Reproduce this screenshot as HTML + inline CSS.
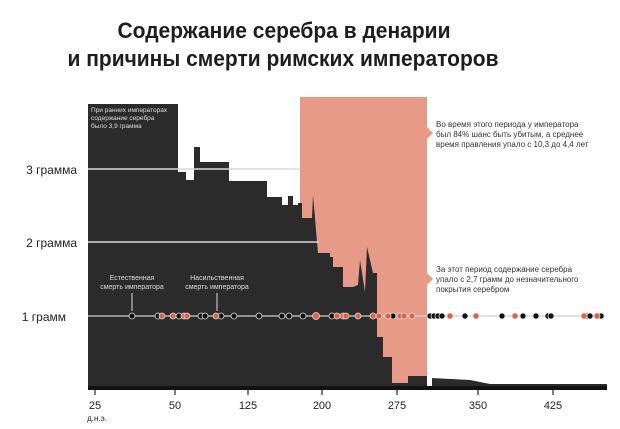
<!DOCTYPE html>
<html><head><meta charset="utf-8"><style>
html,body{margin:0;padding:0;background:#fff;}
svg{display:block;font-family:"Liberation Sans","DejaVu Sans",sans-serif;}
</style></head><body>
<svg width="620" height="429" viewBox="0 0 620 429" xmlns="http://www.w3.org/2000/svg">
<rect width="620" height="429" fill="#fff"/>
<text x="284" y="38" font-size="22" font-weight="bold" fill="#1d1d1d" text-anchor="middle" textLength="333" lengthAdjust="spacingAndGlyphs">Содержание серебра в денарии</text>
<text x="283" y="66" font-size="22" font-weight="bold" fill="#1d1d1d" text-anchor="middle" textLength="431" lengthAdjust="spacingAndGlyphs">и причины смерти римских императоров</text>

<!-- salmon period -->
<rect x="300" y="97" width="127" height="292" fill="#e89a88"/>
<polygon points="427,127 433,133 427,139" fill="#e89a88"/>
<polygon points="427,273 433,279 427,285" fill="#e89a88"/>

<!-- dark area -->
<polygon fill="#2b2b2b" points="88,104 178,104 178,172 186,172 186,180 194,180 194,147 200,147 200,162 229,162 229,181 267,181 267,197 282,197 282,205 288,205 288,196 293,196 293,205 298,205 298,203 302,203 302,218 312,218 313,195 318,253 330,253 330,257 333,257 333,267 343,267 343,287 353,287 358,285 360,260 365,292 367,247 373,273 377,273 377,337 383,337 383,357 392,357 392,383 408,383 408,376 427,376 427,389 88,389"/>
<polygon fill="#2b2b2b" points="432,378 470,380 490,384 607,384 607,389 432,389"/>
<rect x="88" y="386" width="519" height="4" fill="#111"/>

<!-- gridlines -->
<line x1="88" y1="169" x2="300" y2="169" stroke="#d8d8d8" stroke-width="1.5"/>
<line x1="88" y1="242" x2="319" y2="242" stroke="#d8d8d8" stroke-width="1.5"/>
<line x1="88" y1="316" x2="605" y2="316" stroke="#cfcfcf" stroke-width="1.2"/>

<text x="91" y="112" font-size="6.5" fill="#ddd">При ранних императорах</text>
<text x="91" y="120" font-size="6.5" fill="#ddd">содержание серебра</text>
<text x="91" y="128" font-size="6.5" fill="#ddd">было 3,9 грамма</text>

<text x="108" y="279" font-size="7" fill="#ddd" text-anchor="middle"></text>
<text x="132" y="280" font-size="7" fill="#ddd" text-anchor="middle">Естественная</text>
<text x="132" y="289" font-size="7" fill="#ddd" text-anchor="middle">смерть императора</text>
<line x1="132" y1="293" x2="132" y2="311" stroke="#ddd" stroke-width="1"/>
<text x="217" y="280" font-size="7" fill="#ddd" text-anchor="middle">Насильственная</text>
<text x="217" y="289" font-size="7" fill="#ddd" text-anchor="middle">смерть императора</text>
<line x1="217" y1="293" x2="217" y2="311" stroke="#ddd" stroke-width="1"/>

<!-- y labels -->
<g font-size="12" fill="#222" text-anchor="end">
<text x="77" y="174">3 грамма</text>
<text x="77" y="247">2 грамма</text>
<text x="66" y="321">1 грамм</text>
</g>

<!-- annotations -->
<g font-size="8" fill="#333">
<text x="436" y="127">Во время этого периода у императора</text>
<text x="436" y="137">был 84% шанс быть убитым, а среднее</text>
<text x="436" y="147">время правления упало с 10,3 до 4,4 лет</text>
<text x="436" y="272">За этот период содержание серебра</text>
<text x="436" y="282">упало с 2,7 грамм до незначительного</text>
<text x="436" y="292">покрытия серебром</text>
</g>

<!-- dots -->
<g stroke="#ddd" stroke-width="0.8">
<g fill="#111">
<circle cx="132" cy="316" r="3"/><circle cx="158" cy="316" r="3"/><circle cx="179" cy="316" r="3"/>
<circle cx="201" cy="316" r="3"/><circle cx="205" cy="316" r="3"/><circle cx="221" cy="316" r="3"/>
<circle cx="234" cy="316" r="3"/><circle cx="259" cy="316" r="3"/><circle cx="282" cy="316" r="3"/>
<circle cx="289" cy="316" r="3"/><circle cx="303" cy="316" r="3"/><circle cx="332" cy="316" r="3"/>
<circle cx="393" cy="316" r="3"/><circle cx="430" cy="316" r="3"/><circle cx="434" cy="316" r="3"/>
<circle cx="438" cy="316" r="3"/><circle cx="442" cy="316" r="3"/><circle cx="465" cy="316" r="3"/>
<circle cx="502" cy="316" r="3"/><circle cx="523" cy="316" r="3"/><circle cx="536" cy="316" r="3"/>
<circle cx="548" cy="316" r="3"/><circle cx="551" cy="316" r="3"/><circle cx="587" cy="316" r="3"/>
<circle cx="590" cy="316" r="3"/><circle cx="601" cy="316" r="3"/>
</g>
<g fill="#d9634a">
<circle cx="162" cy="316" r="3"/><circle cx="173" cy="316" r="3"/><circle cx="184" cy="316" r="3"/>
<circle cx="187" cy="316" r="3"/><circle cx="216" cy="316" r="3"/><circle cx="316" cy="316" r="3.5"/>
<circle cx="337" cy="316" r="3"/><circle cx="343" cy="316" r="3"/><circle cx="346" cy="316" r="3"/>
<circle cx="358" cy="316" r="3"/><circle cx="373" cy="316" r="3"/><circle cx="379" cy="316" r="3"/>
<circle cx="388" cy="316" r="3"/><circle cx="400" cy="316" r="3"/><circle cx="404" cy="316" r="3"/>
<circle cx="412" cy="316" r="3"/><circle cx="450" cy="316" r="3"/><circle cx="476" cy="316" r="3"/>
<circle cx="515" cy="316" r="3"/><circle cx="584" cy="316" r="3"/><circle cx="597" cy="316" r="3"/>
</g>
</g>

<!-- x ticks -->
<g stroke="#222" stroke-width="1.2">
<line x1="95" y1="389" x2="95" y2="395"/><line x1="175" y1="389" x2="175" y2="395"/>
<line x1="248" y1="389" x2="248" y2="395"/><line x1="322" y1="389" x2="322" y2="395"/>
<line x1="397" y1="389" x2="397" y2="395"/><line x1="478" y1="389" x2="478" y2="395"/>
<line x1="553" y1="389" x2="553" y2="395"/>
</g>
<g font-size="11" fill="#222" text-anchor="middle">
<text x="95" y="409">25</text><text x="175" y="409">50</text><text x="248" y="409">125</text>
<text x="322" y="409">200</text><text x="397" y="409">275</text><text x="478" y="409">350</text>
<text x="553" y="409">425</text>
<text x="97" y="421" font-size="8">д.н.э.</text>
</g>
</svg>
</body></html>
